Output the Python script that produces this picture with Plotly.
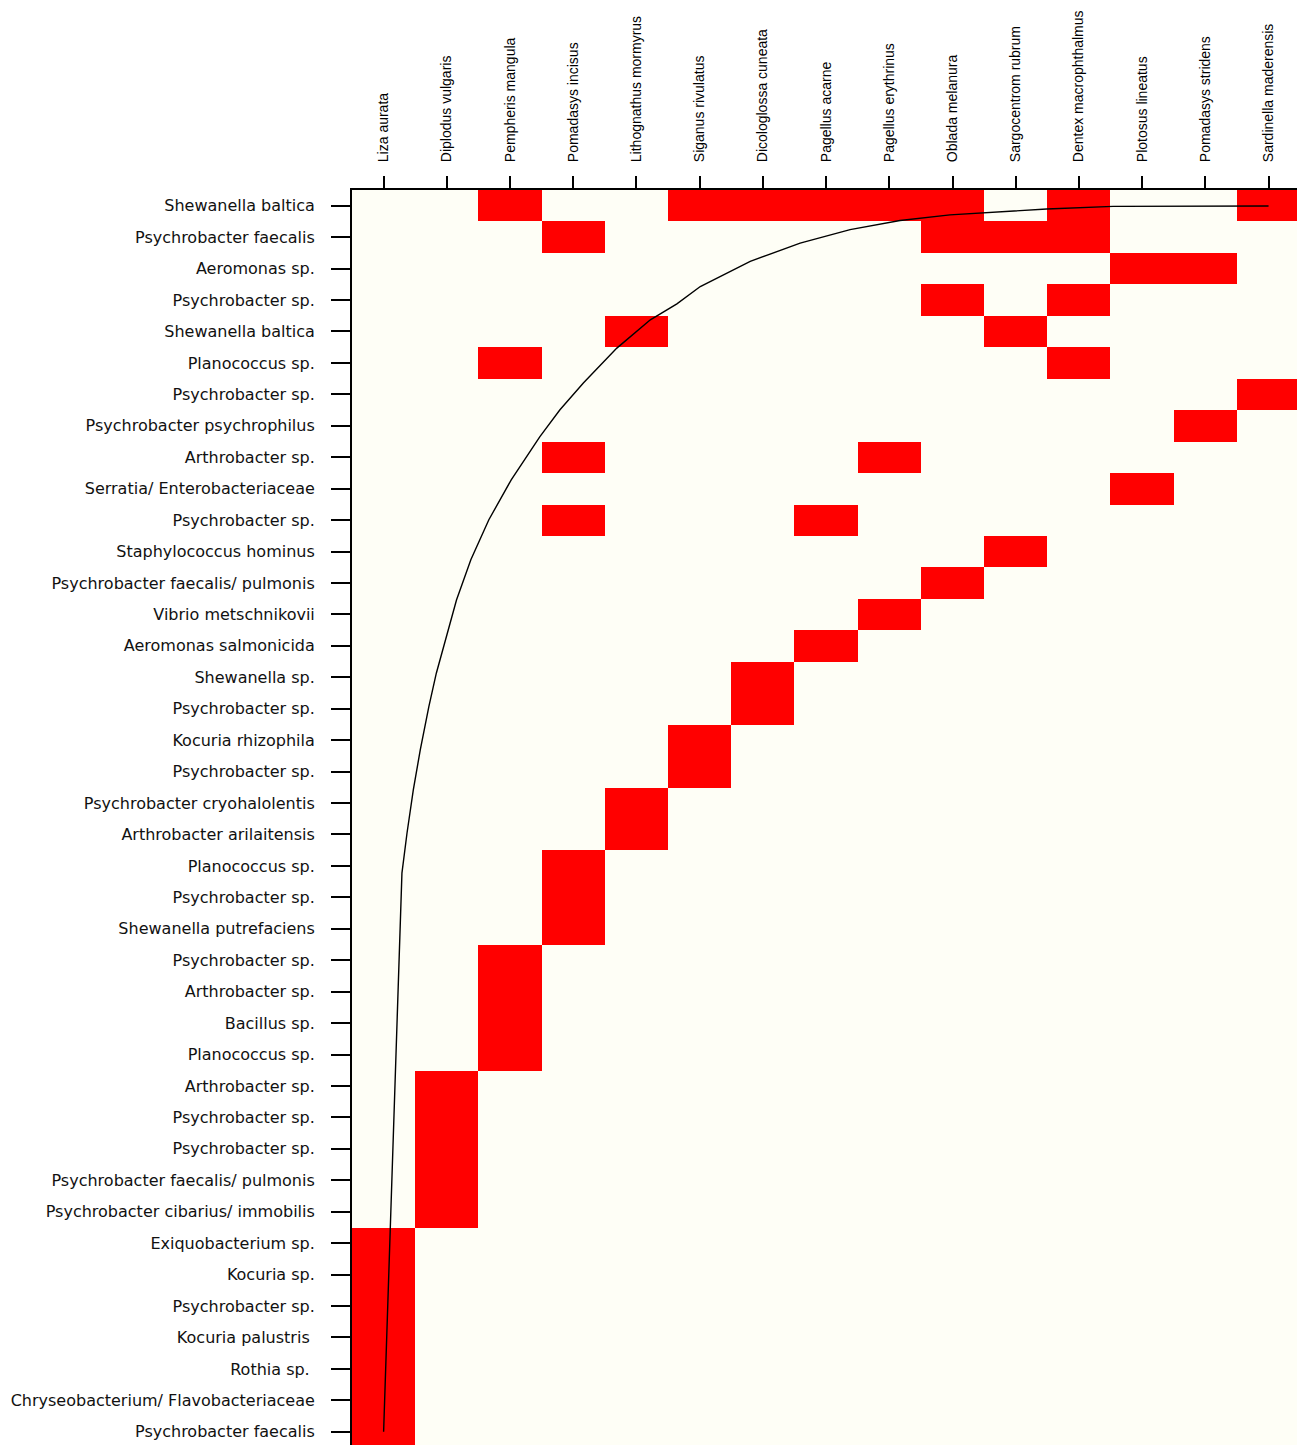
import plotly.graph_objects as go

# Host fish species (matrix columns)
fish = [
    "Liza aurata", "Diplodus vulgaris", "Pempheris mangula", "Pomadasys incisus",
    "Lithognathus mormyrus", "Siganus rivulatus", "Dicologlossa cuneata",
    "Pagellus acarne", "Pagellus erythrinus", "Oblada melanura",
    "Sargocentrom rubrum", "Dentex macrophthalmus", "Plotosus lineatus",
    "Pomadasys stridens", "Sardinella maderensis",
]

# Bacterial isolates (matrix rows, top to bottom)
bacteria = [
    "Shewanella baltica", "Psychrobacter faecalis", "Aeromonas sp.",
    "Psychrobacter sp.", "Shewanella baltica", "Planococcus sp.",
    "Psychrobacter sp.", "Psychrobacter psychrophilus", "Arthrobacter sp.",
    "Serratia/ Enterobacteriaceae", "Psychrobacter sp.", "Staphylococcus hominus",
    "Psychrobacter faecalis/ pulmonis", "Vibrio metschnikovii",
    "Aeromonas salmonicida", "Shewanella sp.", "Psychrobacter sp.",
    "Kocuria rhizophila", "Psychrobacter sp.", "Psychrobacter cryohalolentis",
    "Arthrobacter arilaitensis", "Planococcus sp.", "Psychrobacter sp.",
    "Shewanella putrefaciens", "Psychrobacter sp.", "Arthrobacter sp.",
    "Bacillus sp.", "Planococcus sp.", "Arthrobacter sp.", "Psychrobacter sp.",
    "Psychrobacter sp.", "Psychrobacter faecalis/ pulmonis",
    "Psychrobacter cibarius/ immobilis", "Exiquobacterium sp.", "Kocuria sp.",
    "Psychrobacter sp.", "Kocuria palustris\u00a0", "Rothia sp.\u00a0",
    "Chryseobacterium/ Flavobacteriaceae", "Psychrobacter faecalis",
]

# Fish (column indices) in which each isolate was found, row by row
presence = [
    [2, 5, 6, 7, 8, 9, 11, 14],
    [3, 9, 10, 11],
    [12, 13],
    [9, 11],
    [4, 10],
    [2, 11],
    [14],
    [13],
    [3, 8],
    [12],
    [3, 7],
    [10],
    [9],
    [8],
    [7],
    [6], [6],
    [5], [5],
    [4], [4],
    [3], [3], [3],
    [2], [2], [2], [2],
    [1], [1], [1], [1], [1],
    [0], [0], [0], [0], [0], [0], [0],
]

# Isocline of perfect nestedness (column position, row position)
iso_col = [0.00, 0.29, 0.37, 0.47, 0.58, 0.715, 0.834, 0.976, 1.153, 1.380,
           1.665, 2.019, 2.47, 2.79, 3.16, 3.69, 4.22, 4.64, 5.01, 5.80, 6.59,
           7.38, 8.17, 8.96, 9.75, 10.49, 11.54, 14.00]
iso_row = [39.00, 21.23, 19.96, 18.58, 17.31, 15.94, 14.87, 13.81, 12.54,
           11.26, 9.99, 8.72, 7.35, 6.49, 5.64, 4.53, 3.63, 3.12, 2.57, 1.77,
           1.19, 0.76, 0.47, 0.29, 0.20, 0.105, 0.02, 0.01]

BG = "#FEFEF6"
RED = "#FF0000"

n_rows, n_cols = len(bacteria), len(fish)
z = [[0] * n_cols for _ in range(n_rows)]
for r, cols in enumerate(presence):
    for c in cols:
        z[r][c] = 1

fig = go.Figure()
fig.add_trace(go.Heatmap(
    z=z,
    x=list(range(n_cols)),
    y=list(range(n_rows)),
    colorscale=[[0, BG], [1, RED]],
    zmin=0, zmax=1,
    showscale=False,
    hoverinfo="skip",
))
fig.add_trace(go.Scatter(
    x=iso_col, y=iso_row,
    mode="lines",
    line=dict(color="#000000", width=1.4),
    hoverinfo="skip",
    showlegend=False,
))

fig.update_layout(
    width=1297, height=1445,
    margin=dict(l=352, r=0, t=190, b=0, autoexpand=False),
    paper_bgcolor="#FFFFFF",
    plot_bgcolor=BG,
    showlegend=False,
    xaxis=dict(
        side="top",
        range=[-0.5, 14.45],
        tickmode="array",
        tickvals=list(range(n_cols)),
        ticktext=fish,
        tickangle=-90,
        tickfont=dict(family="Liberation Sans, Arial", size=14, color="#000000"),
        ticks="outside", ticklen=12, tickwidth=2, tickcolor="#000000",
        ticklabelstandoff=11,
        showline=True, linewidth=2, linecolor="#000000", mirror=False,
        showgrid=False, zeroline=False, automargin=False,
    ),
    yaxis=dict(
        range=[39.42, -0.5],
        tickmode="array",
        tickvals=list(range(n_rows)),
        ticktext=bacteria,
        tickfont=dict(family="DejaVu Sans", size=16, color="#111111"),
        ticks="outside", ticklen=19, tickwidth=2, tickcolor="#000000",
        ticklabelstandoff=13,
        showline=True, linewidth=2, linecolor="#000000", mirror=False,
        showgrid=False, zeroline=False, automargin=False,
    ),
)

fig.write_html("out.html")
